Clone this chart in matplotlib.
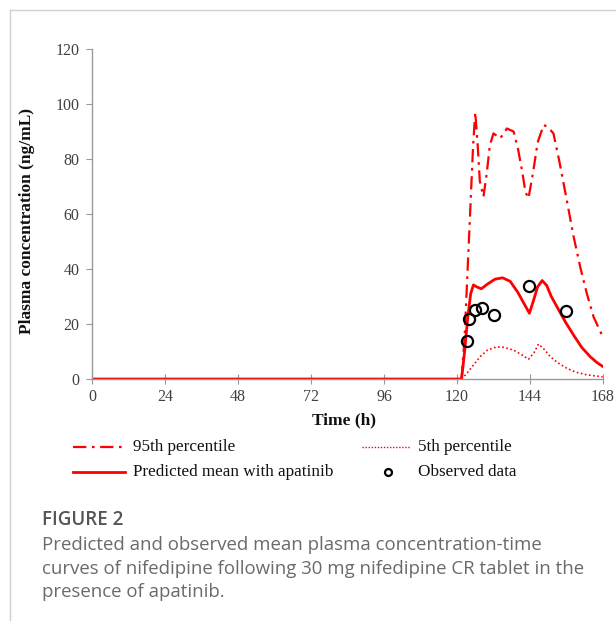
import matplotlib
matplotlib.use("Agg")
import matplotlib.pyplot as plt
from matplotlib.lines import Line2D

# ---- data ----
mean_t = [0, 121.5, 122.5, 123.5, 124.5, 125.4, 126.5, 128, 130, 132.5, 135, 137.5, 140, 142.5, 143.8,
          145, 146.5, 148, 149.5, 151, 153, 155.5, 158.3, 161, 163.8, 166, 168]
mean_c = [0, 0, 10, 22, 31, 34.2, 33.5, 32.8, 34.5, 36.3, 36.8, 35.5, 31.5, 26.5, 23.9,
          28, 33.5, 35.8, 34, 30, 26, 21, 16, 11.5, 8.1, 6, 4.5]

p95_t = [121.5, 122.5, 123.5, 124.5, 125.3, 126, 126.8, 127.5, 128.7, 129.8, 130.8, 132, 134.2, 136.4,
         138.6, 140, 141.5, 142.5, 143.5, 145, 146.5, 148.5, 150, 151.7, 153.5, 156.1, 158.3, 160.5,
         162.7, 164.9, 167.9]
p95_c = [0, 15, 40, 65, 85, 97, 85, 72, 66.3, 75, 85, 89.3, 87.5, 91.1,
         90, 84, 75, 68, 65.7, 75, 86, 92.4, 91.5, 89.3, 80, 65, 52, 40.8,
         31, 22.6, 15.4]

p5_t = [121.5, 123.2, 125, 127.6, 130, 133.1, 135.5, 138.6, 141, 143.5, 145.3, 146.8, 148.5, 150.7,
        153, 156.1, 159, 162.7, 167.9]
p5_c = [0, 2, 4.5, 8.1, 10.5, 11.7, 11.5, 10.5, 9, 7.2, 9.5, 12.7, 11, 8.1,
        6, 3.9, 2.5, 1.5, 0.8]

obs_t = [123.2, 124.1, 125.8, 128.2, 132.0, 143.7, 155.9]
obs_c = [13.9, 21.7, 25.1, 25.9, 23.3, 33.9, 24.8]

x_ticks = [0, 24, 48, 72, 96, 120, 144, 168]
y_ticks = [0, 20, 40, 60, 80, 100, 120]

caption_title = "FIGURE 2"
caption_lines = ["Predicted and observed mean plasma concentration-time",
                 "curves of nifedipine following 30 mg nifedipine CR tablet in the",
                 "presence of apatinib."]

RED = "#ff0000"
SERIF = "Liberation Serif"
DASHDOT = (6, 2.5, 1.2, 2.5)

fig = plt.figure(figsize=(6.16, 6.21), dpi=100)


def fy(py):
    return 1 - py / 621


def fx(px):
    return px / 616


# card border (top and left)
fig.add_artist(Line2D([fx(10), 1], [fy(10), fy(10)], color="#d0d0d0", lw=1.0))
fig.add_artist(Line2D([fx(10), fx(10)], [0, fy(10)], color="#d0d0d0", lw=1.0))

ax = fig.add_axes([92/616, 242/621, 511/616, 330/621])
ax.plot(p95_t, p95_c, color=RED, lw=1.6, dashes=DASHDOT)
ax.plot(p5_t, p5_c, color=RED, lw=1.2, linestyle=(0, (1, 1.5)))
ax.plot(mean_t, mean_c, color=RED, lw=2.0)
ax.plot(obs_t, obs_c, linestyle="none", marker="o", ms=8, mfc="none", mec="black", mew=1.6)

ax.set_xlim(0, 168)
ax.set_ylim(0, 120)
ax.set_xticks(x_ticks)
ax.set_yticks(y_ticks)
for s in ["top", "right"]:
    ax.spines[s].set_visible(False)
for s in ["left", "bottom"]:
    ax.spines[s].set_color("#999999")
    ax.spines[s].set_linewidth(1.0)
ax.tick_params(axis="x", direction="inout", length=7, color="#999999", labelsize=11.5,
               labelcolor="#404040", pad=4)
ax.tick_params(axis="y", direction="out", length=4, color="#999999", labelsize=11.5,
               labelcolor="#404040", pad=5)
for lab in ax.get_xticklabels() + ax.get_yticklabels():
    lab.set_fontfamily(SERIF)

fig.text(fx(344), fy(420), "Time (h)", fontfamily=SERIF, fontweight="bold", fontsize=12.5,
         ha="center", va="center", color="#111111")
fig.text(fx(27), fy(221), "Plasma concentration (ng/mL)", fontfamily=SERIF, fontweight="bold",
         fontsize=12.5, ha="center", va="center", rotation=90, color="#111111")

# legend (manual, figure coords)
LFS = 12.3
fig.add_artist(Line2D([fx(73), fx(125)], [fy(447), fy(447)], color=RED, lw=1.6, dashes=DASHDOT))
fig.text(fx(133), fy(447), "95th percentile", fontfamily=SERIF, fontsize=LFS, va="center", color="#111111")
fig.add_artist(Line2D([fx(362), fx(410)], [fy(447), fy(447)], color=RED, lw=1.0, linestyle=(0, (1, 1.2))))
fig.text(fx(418), fy(447), "5th percentile", fontfamily=SERIF, fontsize=LFS, va="center", color="#111111")
fig.add_artist(Line2D([fx(73), fx(125)], [fy(472), fy(472)], color=RED, lw=2.0))
fig.text(fx(133), fy(472), "Predicted mean with apatinib", fontfamily=SERIF, fontsize=LFS, va="center", color="#111111")
fig.add_artist(Line2D([fx(388)], [fy(472)], marker="o", ms=5, mfc="none", mec="black", mew=1.6, linestyle="none"))
fig.text(fx(418), fy(472), "Observed data", fontfamily=SERIF, fontsize=LFS, va="center", color="#111111")

# caption
fig.text(fx(42), fy(520), caption_title, fontfamily="Open Sans", fontweight="semibold", fontsize=13.5,
         va="center", color="#555555")
for i, line in enumerate(caption_lines):
    fig.text(fx(42), fy(545 + 23.5 * i), line, fontfamily="Open Sans", fontsize=13.4,
             va="center", color="#6a6a6a")

fig.savefig("out.png", dpi=100)
